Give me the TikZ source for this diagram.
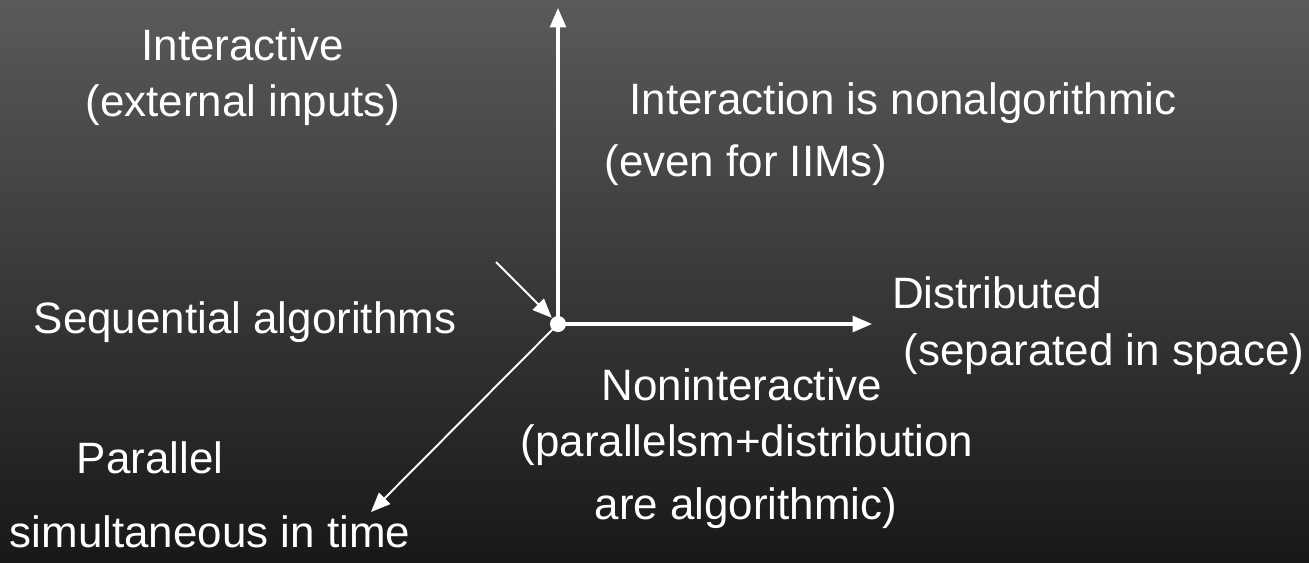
\documentclass[tikz,border=0pt]{standalone}
\usepackage{fontspec}
\setmainfont{Liberation Sans}
\usetikzlibrary{arrows.meta}
\definecolor{slidetop}{RGB}{90,90,90}
\definecolor{slidebottom}{RGB}{24,24,24}

\begin{document}
\begin{tikzpicture}[x=0.02cm,y=-0.02cm,
  lbl/.style={text=white,font=\fontsize{25}{30}\selectfont,inner sep=0pt},
  axis/.style={white,line width=1.8pt,-{Triangle[length=11pt,width=9pt]}},
  thinaxis/.style={white,line width=1.1pt,-{Triangle[length=11pt,width=9pt]}}]
% Background
\shade[top color=slidetop,bottom color=slidebottom] (0,0) rectangle (1309,562);
\useasboundingbox (0,0) rectangle (1309,562);

% Origin and axis ends
\coordinate (o) at (558,324);
\coordinate (top) at (558,8);
\coordinate (right) at (872,324);
\coordinate (diag) at (371,512);
\coordinate (in) at (496,262);

% Axes
\draw[axis] (o) -- (top);
\draw[axis] (o) -- (right);
\draw[thinaxis] (o) -- (diag);
\draw[thinaxis,shorten >=5pt] (in) -- (o);
\fill[white] (o) circle (8);

% Labels
\node[lbl] (inter) at (243,45) {Interactive};
\node[lbl] (ext) at (243,105) {(external inputs)};
\node[lbl] (nonalg) at (903,103) {Interaction is nonalgorithmic};
\node[lbl] (iims) at (746,165) {(even for IIMs)};
\node[lbl] (seq) at (245,322) {Sequential algorithms};
\node[lbl] (dist) at (997,293) {Distributed};
\node[lbl] (space) at (1104,354) {(separated in space)};
\node[lbl] (nonint) at (742,385) {Noninteractive};
\node[lbl] (pard) at (747,445) {(parallelsm+distribution};
\node[lbl] (algo) at (746,508) {are algorithmic)};
\node[lbl] (par) at (150,458) {Parallel};
\node[lbl] (time) at (210,532) {simultaneous in time};
\end{tikzpicture}
\end{document}
